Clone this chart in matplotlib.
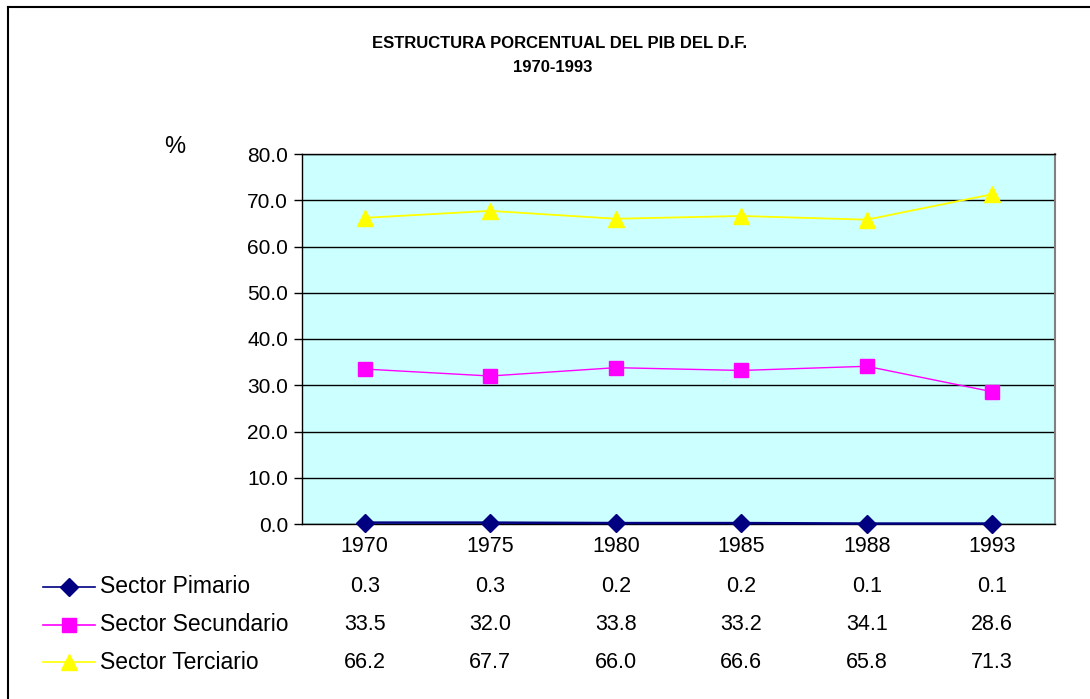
import matplotlib
matplotlib.use('Agg')
import matplotlib.pyplot as plt
from matplotlib.lines import Line2D
import matplotlib.transforms as mtransforms

plt.rcParams['font.family'] = ['Liberation Sans', 'DejaVu Sans']

years = ['1970', '1975', '1980', '1985', '1988', '1993']
primario = [0.3, 0.3, 0.2, 0.2, 0.1, 0.1]
secundario = [33.5, 32.0, 33.8, 33.2, 34.1, 28.6]
terciario = [66.2, 67.7, 66.0, 66.6, 65.8, 71.3]
series_names = ['Sector Pimario', 'Sector Secundario', 'Sector Terciario']
y_ticks = [0, 10, 20, 30, 40, 50, 60, 70, 80]

W, H = 1090, 699
fig = plt.figure(figsize=(W / 100, H / 100), dpi=100)
ax = fig.add_axes([302 / W, 1 - 524 / H, 753 / W, 370 / H])
ax.set_facecolor('#CCFFFF')

x = list(range(len(years)))
styles = [
    dict(color='#000080', marker='D', markersize=9, lw=1.8),
    dict(color='#FF00FF', marker='s', markersize=10, lw=1.0),
    dict(color='#FFFF00', marker='^', markersize=11, lw=1.3),
]
for vals, st in zip([primario, secundario, terciario], styles):
    ax.plot(x, vals, color=st['color'], lw=st['lw'], marker=st['marker'],
            markersize=st['markersize'], markeredgecolor=st['color'],
            clip_on=False, zorder=3)

ax.set_xlim(-0.5, len(years) - 0.5)
ax.set_ylim(0, 80)
ax.set_yticks(y_ticks)
ax.set_yticklabels(['%.1f' % v for v in y_ticks], fontsize=15)
ax.set_xticks(x)
ax.set_xticklabels(years, fontsize=15.5)
ax.tick_params(axis='x', length=0, pad=9)
ax.tick_params(axis='y', length=6, width=1, pad=4, direction='out')
ax.yaxis.grid(True, color='black', lw=1)
ax.set_axisbelow(True)
for side in ['left', 'bottom', 'top']:
    ax.spines[side].set_color('black')
    ax.spines[side].set_linewidth(1)
ax.spines['right'].set_color('#808080')
ax.spines['right'].set_linewidth(1.5)

# data table below the chart
row_y = [-0.170, -0.272, -0.373]
trans = mtransforms.blended_transform_factory(ax.transData, ax.transAxes)
for vals, st, name, ry in zip([primario, secundario, terciario], styles, series_names, row_y):
    ax.add_line(Line2D([-0.344, -0.275], [ry, ry], transform=ax.transAxes,
                       color=st['color'], lw=1.2, clip_on=False))
    ax.add_line(Line2D([-0.309], [ry], transform=ax.transAxes, color=st['color'],
                       marker=st['marker'], markersize=st['markersize'],
                       markeredgecolor=st['color'], clip_on=False))
    ax.text(-0.268, ry, name, transform=ax.transAxes, fontsize=16.5,
            ha='left', va='center')
    for xi, v in zip(x, vals):
        ax.text(xi, ry, '%.1f' % v, transform=trans, fontsize=15.5,
                ha='center', va='center')

fig.text(175 / W, 1 - 147 / H, '%', fontsize=17, ha='center', va='center')
fig.text(560 / W, 1 - 43 / H, 'ESTRUCTURA PORCENTUAL DEL PIB DEL D.F.',
         fontsize=12, fontweight='bold', ha='center', va='center')
fig.text(553 / W, 1 - 67 / H, '1970-1993', fontsize=12, fontweight='bold',
         ha='center', va='center')

# outer chart border (left and top visible)
fig.add_artist(Line2D([8 / W, 8 / W], [0, 1 - 7 / H], transform=fig.transFigure,
                      color='black', lw=1.5))
fig.add_artist(Line2D([8 / W, 1], [1 - 7 / H, 1 - 7 / H], transform=fig.transFigure,
                      color='black', lw=1.5))

fig.savefig('out.png', dpi=100)
